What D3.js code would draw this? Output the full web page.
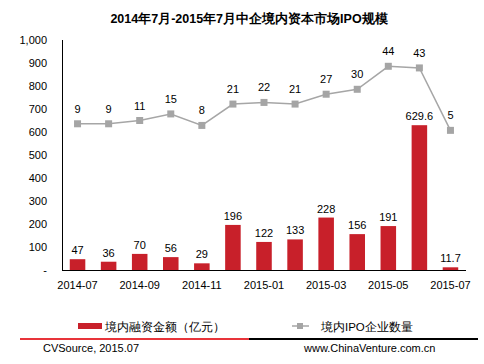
<!DOCTYPE html>
<html>
<head>
<meta charset="utf-8">
<script src="https://cdn.jsdelivr.net/npm/d3@7"></script>
<style>
  body { margin: 0; background: #fff; }
  text { font-family: "Liberation Sans", Arial, sans-serif; }
</style>
</head>
<body>
<div id="chart"></div>
<script>
// data
const months = ["2014-07", "2014-08", "2014-09", "2014-10", "2014-11", "2014-12", "2015-01",
  "2015-02", "2015-03", "2015-04", "2015-05", "2015-06", "2015-07"];
const amount = [47, 36, 70, 56, 29, 196, 122, 133, 228, 156, 191, 629.6, 11.7];
const ipoCount = [9, 9, 11, 15, 8, 21, 22, 21, 27, 30, 44, 43, 5];
const yTicks = [0, 100, 200, 300, 400, 500, 600, 700, 800, 900, 1000];

const width = 484;
const height = 364;
const plotLeft = 62, plotRight = 466, plotTop = 40, plotBottom = 270;

const svg = d3.select("#chart")
  .append("svg")
  .attr("width", width)
  .attr("height", height);

const x = d3.scaleBand()
  .domain(months)
  .range([plotLeft, plotRight])
  .paddingInner(0.5)
  .paddingOuter(0.25);

const y = d3.scaleLinear().domain([0, 1000]).range([plotBottom, plotTop]);
// hidden secondary axis for the IPO count line
const y2 = d3.scaleLinear().domain([-80, 60]).range([plotBottom, plotTop]);

// title
svg.append("text")
  .attr("x", 249)
  .attr("y", 23)
  .attr("text-anchor", "middle")
  .style("font-size", "12.5px")
  .style("font-weight", "bold")
  .text("2014年7月-2015年7月中企境内资本市场IPO规模");

// y axis labels
svg.selectAll(".ytick")
  .data(yTicks)
  .enter()
  .append("text")
  .attr("class", "ytick")
  .attr("x", 47)
  .attr("y", d => y(d) + 4)
  .attr("text-anchor", "end")
  .style("font-size", "11px")
  .text(d => d === 0 ? "-" : d3.format(",")(d));

// axis lines
svg.append("line")
  .attr("x1", plotLeft + 0.5).attr("x2", plotLeft + 0.5)
  .attr("y1", plotTop).attr("y2", plotBottom)
  .attr("stroke", "#000");
svg.append("line")
  .attr("x1", plotLeft).attr("x2", plotRight)
  .attr("y1", plotBottom + 0.5).attr("y2", plotBottom + 0.5)
  .attr("stroke", "#000");

// x labels, every second month
svg.selectAll(".xtick")
  .data(months.filter((d, i) => i % 2 === 0))
  .enter()
  .append("text")
  .attr("class", "xtick")
  .attr("x", d => x(d) + x.bandwidth() / 2)
  .attr("y", 289)
  .attr("text-anchor", "middle")
  .style("font-size", "11px")
  .text(d => d);

// bars
svg.selectAll(".bar")
  .data(amount)
  .enter()
  .append("rect")
  .attr("class", "bar")
  .attr("x", (d, i) => x(months[i]))
  .attr("y", d => y(d))
  .attr("width", x.bandwidth())
  .attr("height", d => plotBottom - y(d))
  .attr("fill", "#C8202A");

svg.selectAll(".barlabel")
  .data(amount)
  .enter()
  .append("text")
  .attr("class", "barlabel")
  .attr("x", (d, i) => x(months[i]) + x.bandwidth() / 2)
  .attr("y", d => y(d) - 5)
  .attr("text-anchor", "middle")
  .style("font-size", "11px")
  .text(d => d);

// line
const line = d3.line()
  .x((d, i) => x(months[i]) + x.bandwidth() / 2)
  .y(d => y2(d));

svg.append("path")
  .datum(ipoCount)
  .attr("d", line)
  .attr("fill", "none")
  .attr("stroke", "#A6A6A6")
  .attr("stroke-width", 1.5);

svg.selectAll(".pt")
  .data(ipoCount)
  .enter()
  .append("rect")
  .attr("class", "pt")
  .attr("x", (d, i) => x(months[i]) + x.bandwidth() / 2 - 3.5)
  .attr("y", d => y2(d) - 3.5)
  .attr("width", 7)
  .attr("height", 7)
  .attr("fill", "#A5A5A5");

svg.selectAll(".ptlabel")
  .data(ipoCount)
  .enter()
  .append("text")
  .attr("class", "ptlabel")
  .attr("x", (d, i) => x(months[i]) + x.bandwidth() / 2)
  .attr("y", d => y2(d) - 11)
  .attr("text-anchor", "middle")
  .style("font-size", "11px")
  .text(d => d);

// legend
svg.append("rect")
  .attr("x", 78).attr("y", 323)
  .attr("width", 24).attr("height", 6)
  .attr("fill", "#C8202A");
svg.append("text")
  .attr("x", 105).attr("y", 331)
  .style("font-size", "11.5px")
  .text("境内融资金额（亿元）");

svg.append("line")
  .attr("x1", 292).attr("x2", 309)
  .attr("y1", 326).attr("y2", 326)
  .attr("stroke", "#A6A6A6").attr("stroke-width", 1.5);
svg.append("rect")
  .attr("x", 297).attr("y", 323)
  .attr("width", 6).attr("height", 6)
  .attr("fill", "#A5A5A5");
svg.append("text")
  .attr("x", 321).attr("y", 331)
  .style("font-size", "11.5px")
  .text("境内IPO企业数量");

// footer band
svg.append("rect")
  .attr("x", 20).attr("y", 338)
  .attr("width", 229).attr("height", 2)
  .attr("fill", "#E8343A");
svg.append("rect")
  .attr("x", 249).attr("y", 338)
  .attr("width", 229).attr("height", 2)
  .attr("fill", "#000");

svg.append("text")
  .attr("x", 43).attr("y", 352)
  .style("font-size", "11px")
  .text("CVSource, 2015.07");
svg.append("text")
  .attr("x", 304).attr("y", 352)
  .style("font-size", "11px")
  .text("www.ChinaVenture.com.cn");
</script>
</body>
</html>
